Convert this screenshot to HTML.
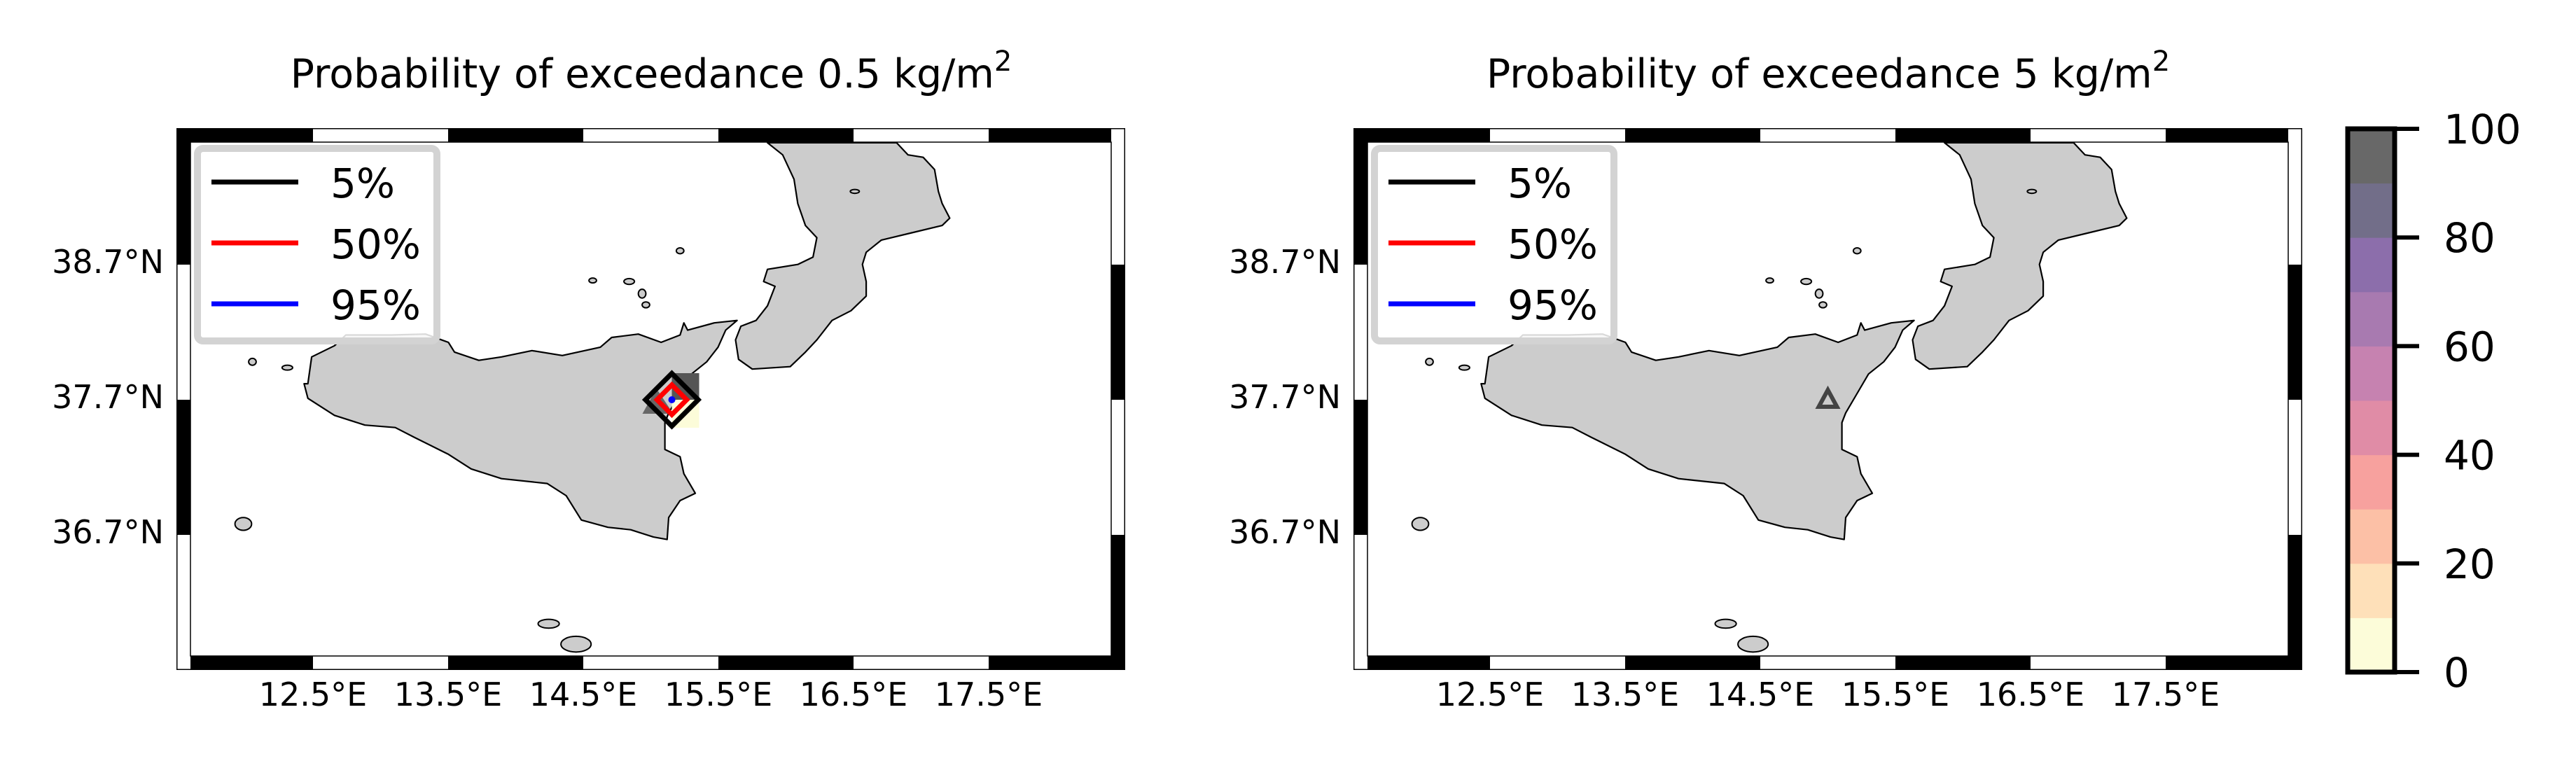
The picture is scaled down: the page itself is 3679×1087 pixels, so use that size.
<!DOCTYPE html>
<html><head><meta charset="utf-8"><style>
html,body{margin:0;padding:0;background:#fff;}
svg{display:block;font-family:"DejaVu Sans","Liberation Sans",sans-serif;}
</style></head><body>
<svg id="fig" width="3679" height="1087" viewBox="0 0 3679 1087" xmlns="http://www.w3.org/2000/svg"></svg>
<script>
// ---- data ----
const lonTicks = [12.5, 13.5, 14.5, 15.5, 16.5, 17.5];
const latTicks = [38.7, 37.7, 36.7];
const contourLevels = ['5%', '50%', '95%'];
const contourColors = ['#000000', '#ff0000', '#0000ff'];
const contourRadiusDeg = [0.195, 0.11, 0.02];
const cbarTicks = [0, 20, 40, 60, 80, 100];
const cbarColors = ['#fcfcd9','#fee0b9','#fcc0a6','#f7a19e','#e08ca6','#c682b0','#a87ab0','#8c6eab','#726e89','#686868'];
const ventLon = [15.0];
const ventLat = [37.70];
const panelTitles = ['Probability of exceedance 0.5 kg/m', 'Probability of exceedance 5 kg/m'];

// coastline traces (traced reference pixel coordinates, zoom space)
const sicily = [[405,790],[410,735],[440,712],[455,690],[515,690],[560,688],[590,705],[598,725],[630,742],[660,735],[700,722],[740,732],[790,715],[805,695],[840,688],[870,705],[895,690],[900,665],[905,680],[940,665],[970,660],[955,680],[945,715],[930,745],[910,770],[895,810],[880,850],[875,870],[875,925],[895,940],[900,975],[915,1015],[895,1030],[880,1065],[878,1110],[860,1105],[830,1090],[800,1085],[765,1070],[745,1020],[720,995],[660,985],[620,965],[590,935],[545,900],[520,880],[480,875],[440,855],[405,820],[400,790]];
const calabria = [[1010,295],[1030,320],[1045,370],[1050,420],[1060,465],[1075,490],[1070,530],[1050,545],[1010,555],[1005,580],[1020,590],[1010,630],[995,660],[975,672],[968,700],[972,740],[990,760],[1040,755],[1060,725],[1075,700],[1095,660],[1120,640],[1140,610],[1140,580],[1135,545],[1140,520],[1160,495],[1200,480],[1240,465],[1250,450],[1240,420],[1235,395],[1230,350],[1215,325],[1195,320],[1180,295]];
const islands = [[895,517,5,6],[780,578,5,5],[828,580,7,6],[845,605,5,9],[850,628,5,6],[332,745,5,7],[378,757,7,5],[320,1078,11,13],[722,1283,14,9],[758,1325,20,16],[1125,395,6,4]];

// ---- geometry ----
const NS = 'http://www.w3.org/2000/svg';
const svg = document.getElementById('fig');
const L0 = 252, T0 = 183, R0 = 1607, B0 = 957, BAND = 20, DX = 1681;
const PXDEG = 193;
function xOf(lon, off){ return off + 447 + (lon - 12.5) * PXDEG; }
function yOf(lat){ return 378 - (lat - 38.7) * PXDEG; }
function zx(v, off){ return off + 252 + (v - 232) * 1.0849; }
function zy(v){ return 183 + (v - 265) * 0.6954; }
function mk(tag, attrs, parent){ const e = document.createElementNS(NS, tag); for (const k in attrs) e.setAttribute(k, attrs[k]); (parent||svg).appendChild(e); return e; }

function drawPanel(p){
  const off = p * DX;
  const g = mk('g', {});
  
  
  // title
  const t = mk('text', {x: off + 930, y: 125, 'font-size': 57, 'text-anchor': 'middle', fill: '#000'}, g);
  
  
  t.textContent = panelTitles[p];
  const sup = mk('tspan', {'font-size': 40, dy: -24}, t);
  sup.textContent = '2';
  // land
  const land = mk('g', {}, g);
  
  
  [sicily, calabria].forEach((poly, i) => {
    const d = poly.map((q, j) => (j ? 'L' : 'M') + zx(q[0], off).toFixed(1) + ' ' + zy(q[1]).toFixed(1)).join(' ') + 'Z';
    const pa = mk('path', {d: d, fill: '#cccccc', stroke: '#000', 'stroke-width': 2.2, 'stroke-linejoin': 'round'}, land);
    
    
  });
  islands.forEach(q => {
    const e = mk('ellipse', {cx: zx(q[0], off), cy: zy(q[1]), rx: q[2] * 1.08, ry: q[3] * 0.7, fill: '#cccccc', stroke: '#000', 'stroke-width': 2}, land);
    
    
  });
  const cx = xOf(ventLon[0], off) + (p === 0 ? 30 : 0), cy = yOf(ventLat[0]);
  if (p === 0) {
    const r1 = mk('rect', {x: cx, y: cy - 38, width: 39, height: 38, fill: '#555555'}, g);
    
    
    const r2 = mk('rect', {x: cx, y: cy, width: 39, height: 40, fill: '#fcfcd9'}, g);
    
    
    const tri = mk('polygon', {points: `${cx-22},${cy-16} ${cx-42},${cy+20} ${cx+2},${cy+20}`, fill: '#555555', opacity: 0.85}, g);
    
    
    contourLevels.forEach((lv, i) => {
      const r = contourRadiusDeg[i] * PXDEG;
      if (i === 2) {
        const c = mk('circle', {cx: cx, cy: cy, r: 5, fill: contourColors[i]}, g);
        
        
      } else {
        const d = mk('polygon', {points: `${cx},${cy-r} ${cx+r},${cy} ${cx},${cy+r} ${cx-r},${cy}`, fill: 'none', stroke: contourColors[i], 'stroke-width': 7, 'stroke-linejoin': 'miter'}, g);
        
        
      }
    });
  } else {
    const tri = mk('polygon', {points: `${cx},${cy-14} ${cx+13},${cy+10} ${cx-13},${cy+10}`, fill: 'none', stroke: '#444', 'stroke-width': 6}, g);
    
    
  }
  // frame bands
  const fr = mk('g', {}, g);
  
  
  const xs = [L0 + off].concat(lonTicks.map(v => xOf(v, off)), [R0 - BAND + off]);
  for (let i = 0; i < xs.length - 1; i++) {
    const c = i % 2 === 0 ? '#000' : '#fff';
    mk('rect', {x: xs[i], y: T0, width: xs[i+1] - xs[i], height: BAND, fill: c}, fr);
    mk('rect', {x: xs[i] + (i === 0 ? BAND : 0), y: B0 - BAND, width: xs[i+1] - xs[i] - (i === 0 ? BAND : 0) + (i === xs.length - 2 ? BAND : 0), height: BAND, fill: c}, fr);
  }
  const ys = [T0].concat(latTicks.map(yOf), [B0]);
  for (let i = 0; i < ys.length - 1; i++) {
    mk('rect', {x: L0 + off, y: ys[i], width: BAND, height: ys[i+1] - ys[i] - (i === ys.length - 2 ? BAND : 0), fill: i % 2 === 0 ? '#000' : '#fff'}, fr);
    mk('rect', {x: R0 - BAND + off, y: ys[i], width: BAND, height: ys[i+1] - ys[i] - (i === ys.length - 2 ? BAND : 0), fill: i % 2 === 0 ? '#fff' : '#000'}, fr);
  }
  mk('rect', {x: L0 + off + 0.75, y: T0 + 0.75, width: R0 - L0 - 1.5, height: B0 - T0 - 1.5, fill: 'none', stroke: '#000', 'stroke-width': 1.5}, fr);
  mk('rect', {x: L0 + BAND + off, y: T0 + BAND, width: R0 - L0 - 2 * BAND, height: B0 - T0 - 2 * BAND, fill: 'none', stroke: '#000', 'stroke-width': 1.5}, fr);
  // tick labels
  lonTicks.forEach(v => {
    const e = mk('text', {x: xOf(v, off), y: 1008, 'font-size': 46, 'text-anchor': 'middle'}, g);
    
    
    e.textContent = v.toFixed(1) + '°E';
  });
  latTicks.forEach(v => {
    const e = mk('text', {x: L0 + off - 18, y: yOf(v) + 12, 'font-size': 46, 'text-anchor': 'end'}, g);
    
    
    e.textContent = v.toFixed(1) + '°N';
  });
  // legend
  const lg = mk('g', {}, g);
  
  
  mk('rect', {x: off + 282, y: 212, width: 342, height: 275, rx: 8, fill: 'rgba(255,255,255,0.85)', stroke: '#d3d3d3', 'stroke-width': 10}, lg);
  contourLevels.forEach((lv, i) => {
    const y = 260 + i * 87;
    const ln = mk('line', {x1: off + 302, x2: off + 426, y1: y, y2: y, stroke: contourColors[i], 'stroke-width': 7}, lg);
    
    
    const tx = mk('text', {x: off + 472, y: y + 22, 'font-size': 58}, lg);
    
    
    tx.textContent = lv;
  });
}
drawPanel(0);
drawPanel(1);

// colorbar
const cb = mk('g', {});


const CT = 184, CB = 960, CX0 = 3353, CX1 = 3420;
function cbY(v){ return CB - (v - cbarTicks[0]) / (cbarTicks[cbarTicks.length-1] - cbarTicks[0]) * (CB - CT); }
cbarColors.forEach((c, i) => {
  const v0 = i * 10, v1 = (i + 1) * 10;
  const r = mk('rect', {x: CX0, y: cbY(v1), width: CX1 - CX0, height: cbY(v0) - cbY(v1) + 0.5, fill: c}, cb);
  
  
});
mk('rect', {x: CX0, y: CT, width: CX1 - CX0, height: CB - CT, fill: 'none', stroke: '#000', 'stroke-width': 7}, cb);
cbarTicks.forEach(v => {
  mk('line', {x1: CX1, x2: 3455, y1: cbY(v), y2: cbY(v), stroke: '#000', 'stroke-width': 6}, cb);
  const t = mk('text', {x: 3490, y: cbY(v) + 21, 'font-size': 58}, cb);
  
  
  t.textContent = v;
});
</script>
</body></html>
